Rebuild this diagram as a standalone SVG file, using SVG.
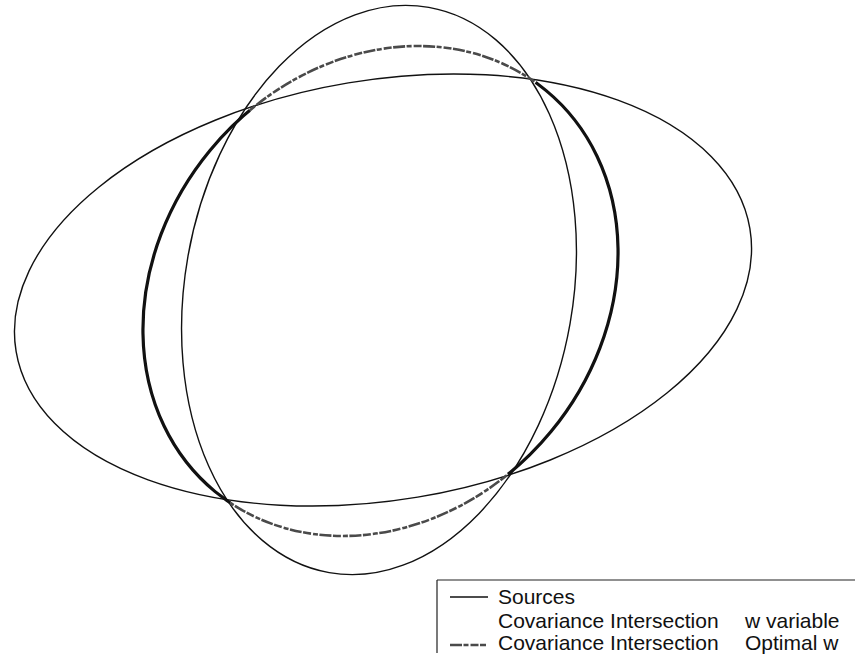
<svg xmlns="http://www.w3.org/2000/svg" width="855" height="658" viewBox="0 0 855 658">
  <style>
    .src { fill: none; stroke: #111; stroke-width: 1.4; }
    .opt { fill: none; stroke: #111; stroke-width: 3.2; }
    .optvar { fill: none; stroke: #4a4a4a; stroke-width: 2.6; stroke-dasharray: 12 1.5 5 2 8 1.5; }
    .lbl { font-family: "Liberation Sans", Arial, sans-serif; font-size: 21px; fill: #111; }
    .frame { fill: none; stroke: #222; stroke-width: 1.2; }
  </style>
  <defs>
    <clipPath id="clipSides">
      <polygon points="380.5,291 48,-169 -500,-169 -500,821 5,821"/>
      <polygon points="380.5,291 767,-229 1300,-229 1300,758 705,758"/>
    </clipPath>
    <clipPath id="clipTopBottom">
      <polygon points="380.5,291 48,-169 767,-229"/>
      <polygon points="380.5,291 5,821 705,758"/>
    </clipPath>
  </defs>
  <rect width="855" height="658" fill="#fff"/>

  <g id="source-wide">
    <ellipse class="src" cx="383" cy="290" rx="372" ry="210" transform="rotate(-9.5 383 290)"/>
  </g>
  <g id="source-tall">
    <ellipse class="src" cx="379" cy="290" rx="194" ry="287" transform="rotate(10 379 290)"/>
  </g>
  <g id="ci-optimal">
    <g clip-path="url(#clipSides)">
      <ellipse class="opt" cx="380.5" cy="291" rx="260" ry="221" transform="rotate(-50.5 380.5 291)"/>
    </g>
    <g clip-path="url(#clipTopBottom)">
      <ellipse class="optvar" cx="380.5" cy="291" rx="260" ry="221" transform="rotate(-50.5 380.5 291)"/>
    </g>
  </g>

  <g id="legend">
    <path class="frame" d="M437,580 H855 M437,580 V653"/>
    <line class="src" x1="450" y1="597" x2="488" y2="597"/>
    <text class="lbl" x="498" y="604">Sources</text>
    <text class="lbl" x="498" y="628">Covariance Intersection</text>
    <text class="lbl" x="745" y="628">w variable</text>
    <line class="optvar" x1="450" y1="645" x2="486" y2="645"/>
    <text class="lbl" x="498" y="650">Covariance Intersection</text>
    <text class="lbl" x="745" y="650">Optimal w</text>
  </g>
</svg>
